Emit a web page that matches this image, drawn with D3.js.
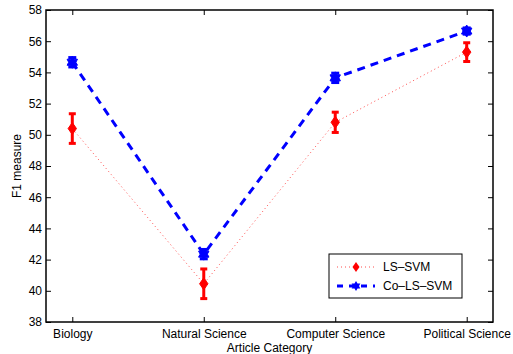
<!DOCTYPE html>
<html>
<head>
<meta charset="utf-8">
<script src="https://cdn.jsdelivr.net/npm/d3@7.9.0/dist/d3.min.js"></script>
<style>
  body { margin: 0; background: #fff; }
  svg { font-family: "Liberation Sans", Arial, sans-serif; }
</style>
</head>
<body>
<svg id="chart" width="513" height="354"></svg>
<script>
// categories and values
const categories = ["Biology", "Natural Science", "Computer Science", "Political Science"];
const lsSvm = [50.4, 40.45, 50.8, 55.3];
const lsSvmErr = [0.95, 0.95, 0.65, 0.6];
const coLsSvm = [54.65, 42.35, 53.65, 56.65];
const coLsSvmErr = [0.3, 0.3, 0.3, 0.2];
const yTicks = [38, 40, 42, 44, 46, 48, 50, 52, 54, 56, 58];

const svg = d3.select("#chart");
const margin = { left: 46, right: 20, top: 10, bottom: 32 };
const W = 513, H = 354;

const x = d3.scaleLinear().domain([0.8, 4.2]).range([margin.left, W - margin.right]);
const y = d3.scaleLinear().domain([38, 58]).range([H - margin.bottom, margin.top]);

const g = svg.append("g");

// axes (ticks pointing inward, mirrored on all sides)
const fontSize = 12;
g.append("g")
  .attr("transform", `translate(0,${y(38)})`)
  .call(d3.axisBottom(x).tickValues([1, 2, 3, 4]).tickFormat((d) => categories[d - 1]).tickSizeInner(-5).tickSizeOuter(0).tickPadding(7))
  .call((a) => a.select(".domain").remove());
g.append("g")
  .attr("transform", `translate(0,${y(58)})`)
  .call(d3.axisTop(x).tickValues([1, 2, 3, 4]).tickFormat("").tickSizeInner(-5).tickSizeOuter(0))
  .call((a) => a.select(".domain").remove());
g.append("g")
  .attr("transform", `translate(${x(0.8)},0)`)
  .call(d3.axisLeft(y).tickValues(yTicks).tickSizeInner(-5).tickSizeOuter(0).tickPadding(4))
  .call((a) => a.select(".domain").remove());
g.append("g")
  .attr("transform", `translate(${x(4.2)},0)`)
  .call(d3.axisRight(y).tickValues(yTicks).tickFormat("").tickSizeInner(-5).tickSizeOuter(0))
  .call((a) => a.select(".domain").remove());

g.selectAll(".tick text").attr("font-size", fontSize).attr("fill", "#000").attr("font-family", "Liberation Sans, Arial, sans-serif");
g.selectAll(".tick line").attr("stroke", "#000");

g.append("rect")
  .attr("x", x(0.8)).attr("y", y(58))
  .attr("width", x(4.2) - x(0.8)).attr("height", y(38) - y(58))
  .attr("fill", "none").attr("stroke", "#000").attr("stroke-width", 1.5);

// axis titles
svg.append("text")
  .attr("x", (x(0.8) + x(4.2)) / 2).attr("y", 352)
  .attr("text-anchor", "middle").attr("font-size", fontSize)
  .text("Article Category");
svg.append("text")
  .attr("transform", `translate(21,${(y(38) + y(58)) / 2}) rotate(-90)`)
  .attr("text-anchor", "middle").attr("font-size", fontSize)
  .text("F1 measure");

// hexagram marker
function hexagram(r) {
  const pts = [];
  for (let i = 0; i < 12; i++) {
    const a = (Math.PI / 6) * i - Math.PI / 2;
    const rr = i % 2 === 0 ? r : r * 0.6;
    pts.push([rr * Math.cos(a), rr * Math.sin(a)]);
  }
  return "M" + pts.map((p) => p.join(",")).join("L") + "Z";
}
function diamond(r) {
  return `M0,${-r}L${r * 0.7},0L0,${r}L${-r * 0.7},0Z`;
}

const line = d3.line().x((d, i) => x(i + 1)).y((d) => y(d));

function drawSeries(vals, errs, color, lineW, dash, opacity, marker, capW) {
  const s = svg.append("g");
  s.append("path").datum(vals).attr("d", line)
    .attr("fill", "none").attr("stroke", color).attr("stroke-width", lineW)
    .attr("stroke-dasharray", dash).attr("stroke-opacity", opacity);
  vals.forEach((v, i) => {
    const cx = x(i + 1);
    const y0 = y(v - errs[i]), y1 = y(v + errs[i]);
    s.append("line").attr("x1", cx).attr("x2", cx).attr("y1", y0).attr("y2", y1)
      .attr("stroke", color).attr("stroke-width", 3);
    [y0, y1].forEach((yy) => {
      s.append("line").attr("x1", cx - capW).attr("x2", cx + capW).attr("y1", yy).attr("y2", yy)
        .attr("stroke", color).attr("stroke-width", 3);
    });
    s.append("path").attr("d", marker).attr("transform", `translate(${cx},${y(v)})`)
      .attr("fill", color).attr("stroke", color).attr("stroke-width", 1);
  });
}

drawSeries(lsSvm, lsSvmErr, "#ff0000", 1, "1,3", 0.7, diamond(6), 3.5);
drawSeries(coLsSvm, coLsSvmErr, "#0000ff", 3, "8,6", 1, hexagram(6), 4);

// legend
const leg = svg.append("g").attr("transform", "translate(329,254)");
leg.append("rect").attr("width", 133).attr("height", 44)
  .attr("fill", "#fff").attr("stroke", "#000").attr("stroke-width", 1);
const items = [
  { label: "LS\u2013SVM", color: "#ff0000", w: 1, dash: "1,3", op: 0.7, marker: diamond(5) },
  { label: "Co\u2013LS\u2013SVM", color: "#0000ff", w: 3, dash: "6,6", op: 1, marker: hexagram(5) },
];
items.forEach((it, i) => {
  const yy = 13 + i * 19;
  leg.append("line").attr("x1", 8).attr("x2", 46).attr("y1", yy).attr("y2", yy)
    .attr("stroke", it.color).attr("stroke-width", it.w).attr("stroke-dasharray", it.dash)
    .attr("stroke-opacity", it.op);
  leg.append("path").attr("d", it.marker).attr("transform", `translate(27,${yy})`)
    .attr("fill", it.color);
  leg.append("text").attr("x", 54).attr("y", yy + 4).attr("font-size", fontSize).text(it.label);
});
</script>
</body>
</html>
